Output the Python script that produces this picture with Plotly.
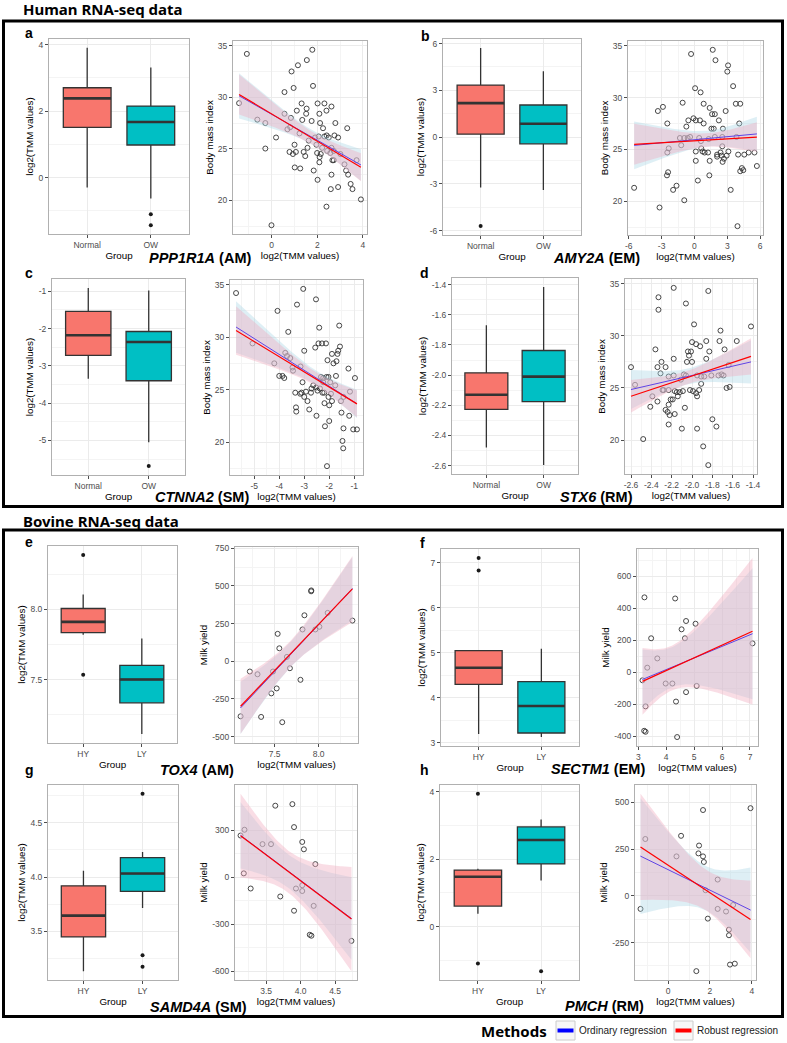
import numpy as np
import plotly.graph_objects as go

W, H = 787, 1043

# ------------------------------------------------------------------ data
# box statistics: [lower whisker, q1, median, q3, upper whisker]
human_groups = ["Normal", "OW"]
bovine_groups = ["HY", "LY"]

a_box_1 = [-0.30, 1.51, 2.38, 2.70, 3.90]
a_box_2 = [-0.63, 0.98, 1.67, 2.15, 3.31]
a_out_1 = []
a_out_2 = [-1.10, -1.43]
a_x = [-1.43, -1.09, -0.63, -0.28, -0.28, -0.01, 0.19, 0.56, 0.56, 0.87,
       0.84, 0.96, 1.15, 1.10, 1.31, 1.34, 1.54, 1.53, 1.51, 1.78,
       1.81, 1.75, 2.01, 2.09, 2.31, 2.40, 2.62, 2.79, 3.31, 2.12,
       2.25, 0.69, 0.81, 1.00, 0.78, 0.93, 1.06, 1.01, 1.25, 1.22,
       1.40, 1.47, 1.57, 1.62, 1.84, 1.90, 1.96, 2.01, 1.99, 2.09,
       2.15, 2.21, 2.31, 2.41, 2.50, 2.43, 2.62, 2.57, 2.66, 2.62,
       2.59, 2.40, 2.75, 2.72, 2.91, 2.91, 3.01, 3.19, 3.26, 3.35,
       3.46, 3.54, 3.72, 3.91, 2.72, 2.06, 2.10]
a_y = [29.43, 34.2, 27.83, 27.5, 25.03, 17.6, 26.1, 30.5, 28.4, 32.5,
       28.0, 30.9, 33.1, 28.7, 29.4, 27.8, 33.6, 28.9, 28.4, 34.6,
       31.1, 27.7, 29.4, 28.4, 29.4, 28.7, 29.1, 27.5, 27.0, 27.5,
       27.0, 26.9, 27.1, 25.4, 24.7, 24.5, 24.7, 23.2, 23.1, 26.5,
       24.7, 24.3, 25.1, 25.8, 22.9, 26.1, 25.4, 22.0, 24.6, 23.7,
       24.5, 25.1, 26.2, 26.3, 26.1, 24.8, 25.1, 24.6, 23.9, 22.5,
       21.1, 19.4, 26.3, 23.9, 26.1, 21.3, 24.5, 23.5, 22.9, 22.5,
       21.6, 21.1, 23.9, 20.1, 24.8, 26.2, 24.2]

b_box_1 = [-3.23, 0.19, 2.18, 3.34, 5.72]
b_box_2 = [-3.38, -0.43, 0.86, 2.06, 4.22]
b_out_1 = [-5.70]
b_out_2 = []
b_x = [-5.51, -3.34, -2.88, -3.19, -2.48, -2.48, -2.35, -2.51, -2.41, -1.95,
       -1.64, -1.08, -1.21, -0.93, -0.74, -0.56, -1.33, -0.93, -0.62, -0.40,
       -0.31, -0.09, 0.06, 0.12, 0.12, 0.12, 0.31, 0.43, 0.59, 0.50,
       0.56, 0.84, 0.84, 0.62, 0.74, 0.93, 1.24, 1.30, 1.36, 1.39,
       1.39, 1.55, 1.61, 1.67, 1.92, 1.86, 1.76, 1.86, 2.07, 2.07,
       2.23, 2.38, 2.48, 2.54, 2.57, 2.69, 2.60, 2.54, 2.85, 3.00,
       3.07, 2.94, 3.10, 3.31, 3.53, 3.78, 4.18, 4.09, 3.84, 3.99,
       3.93, 4.18, 4.33, 4.46, 4.55, 4.95, 5.48, 5.70]
b_y = [21.3, 28.7, 29.1, 19.4, 27.5, 24.7, 25.1, 22.5, 22.8, 21.1,
       21.5, 29.5, 25.4, 20.1, 27.2, 27.8, 26.1, 26.1, 26.1, 26.2,
       34.2, 28.0, 30.9, 27.8, 24.8, 23.9, 22.0, 26.1, 25.8, 27.8,
       30.5, 29.4, 27.5, 25.1, 24.8, 24.7, 24.7, 26.0, 22.5, 23.9,
       29.0, 27.0, 28.4, 34.6, 33.6, 28.4, 27.0, 26.2, 24.3, 24.5,
       27.8, 24.7, 24.4, 25.3, 23.8, 24.1, 27.0, 26.2, 28.7, 32.5,
       33.1, 24.4, 24.8, 21.1, 31.1, 29.4, 29.4, 27.5, 26.2, 24.5,
       17.6, 22.9, 23.2, 23.0, 24.5, 24.7, 24.7, 23.4]

c_box_1 = [-3.35, -2.72, -2.18, -1.54, -0.91]
c_box_2 = [-5.05, -3.40, -2.36, -2.08, -0.98]
c_out_1 = []
c_out_2 = [-5.69]
c_x = [-5.73, -5.07, -4.20, -4.07, -4.00, -3.87, -3.80, -3.76, -3.69, -3.64,
       -3.56, -3.47, -3.45, -3.36, -3.33, -3.32, -3.29, -3.16, -3.15, -3.11,
       -3.04, -3.07, -3.00, -3.00, -2.93, -2.87, -2.80, -2.73, -2.71, -2.64,
       -2.56, -2.53, -2.52, -2.51, -2.47, -2.43, -2.40, -2.37, -2.33, -2.29,
       -2.27, -2.24, -2.24, -2.20, -2.19, -2.17, -2.13, -2.11, -2.09, -2.07,
       -2.03, -2.03, -2.00, -2.00, -1.96, -1.93, -1.89, -1.89, -1.83, -1.76,
       -1.73, -1.71, -1.67, -1.64, -1.60, -1.57, -1.53, -1.51, -1.47, -1.44,
       -1.43, -1.43, -1.23, -1.20, -1.17, -1.04, -0.97, -0.89]
c_y = [34.2, 29.4, 27.5, 32.5, 26.3, 26.3, 26.1, 28.5, 28.2, 30.5,
       28.0, 27.1, 26.8, 24.7, 23.3, 22.9, 33.1, 24.6, 27.2, 24.7,
       34.6, 25.7, 28.7, 24.3, 24.8, 23.9, 23.1, 24.7, 25.1, 25.4,
       29.0, 33.6, 25.2, 22.5, 24.9, 29.4, 30.9, 25.1, 26.2, 29.4,
       24.7, 26.1, 25.7, 24.7, 23.7, 21.5, 29.4, 26.2, 17.7, 27.8,
       24.3, 26.2, 22.0, 23.5, 25.7, 24.6, 23.9, 28.4, 27.5, 25.4,
       26.3, 27.7, 28.4, 28.7, 31.1, 29.1, 23.9, 22.8, 20.1, 19.4,
       21.3, 24.3, 27.0, 22.5, 24.8, 21.2, 26.1, 21.2]

d_box_1 = [-2.48, -2.227, -2.13, -1.985, -1.67]
d_box_2 = [-2.597, -2.176, -2.01, -1.837, -1.415]
d_out_1 = []
d_out_2 = []
d_x = [-2.60, -2.56, -2.48, -2.41, -2.39, -2.36, -2.34, -2.34, -2.33, -2.33,
       -2.31, -2.30, -2.29, -2.28, -2.26, -2.26, -2.24, -2.23, -2.23, -2.23,
       -2.23, -2.22, -2.21, -2.19, -2.18, -2.18, -2.18, -2.17, -2.17, -2.15,
       -2.14, -2.12, -2.11, -2.10, -2.09, -2.08, -2.07, -2.06, -2.06, -2.05,
       -2.04, -2.03, -2.02, -2.01, -2.00, -2.00, -1.99, -1.98, -1.96, -1.95,
       -1.96, -1.95, -1.95, -1.93, -1.92, -1.91, -1.91, -1.89, -1.88, -1.86,
       -1.86, -1.84, -1.84, -1.83, -1.81, -1.80, -1.76, -1.74, -1.73, -1.72,
       -1.71, -1.69, -1.68, -1.66, -1.64, -1.63, -1.56, -1.42]
d_y = [27.0, 25.3, 20.1, 23.2, 24.2, 28.7, 23.7, 27.0, 33.7, 32.5,
       26.4, 27.5, 24.8, 24.8, 27.0, 22.9, 22.7, 26.1, 24.8, 21.5,
       23.4, 22.4, 23.9, 23.9, 34.6, 27.8, 26.2, 24.7, 22.5, 24.6,
       24.2, 24.6, 25.8, 21.1, 24.7, 26.3, 23.1, 33.1, 26.2, 27.5,
       28.5, 28.1, 24.8, 28.5, 29.4, 27.5, 24.7, 31.1, 29.2, 21.1,
       24.5, 24.2, 26.2, 24.8, 29.0, 26.1, 25.4, 19.4, 26.1, 29.5,
       27.8, 17.6, 34.3, 28.5, 26.2, 22.0, 21.3, 26.2, 29.5, 30.5,
       26.3, 26.2, 28.7, 25.0, 27.2, 25.1, 29.5, 30.9]

e_box_1 = [7.82, 7.836, 7.912, 8.007, 8.107]
e_box_2 = [7.114, 7.336, 7.502, 7.602, 7.793]
e_out_1 = [8.388, 7.536]
e_out_2 = []
e_x = [7.113, 7.218, 7.305, 7.346, 7.462, 7.481, 7.523, 7.534, 7.553, 7.586,
       7.639, 7.673, 7.793, 7.816, 7.838, 7.914, 7.916, 7.962, 8.008, 8.102, 8.383]
e_y = [-365, -68, -86, -369, -213, -68, -180, 182, 86, -404,
       29, -46, -123, 211, 305, 464, 470, 211, 229, 321, 270]

f_box_1 = [3.20, 4.30, 4.67, 5.05, 5.06]
f_box_2 = [3.13, 3.22, 3.82, 4.36, 5.09]
f_out_1 = [7.11, 6.83]
f_out_2 = []
f_x = [3.15, 3.22, 3.26, 3.21, 3.26, 3.32, 3.46, 3.68, 3.98, 4.22,
       4.32, 4.35, 4.39, 4.55, 4.67, 4.71, 4.71, 5.05, 5.09, 7.09]
f_y = [-51, 468, -214, -367, -373, 28, 212, 86, -71, -71,
       461, -184, -406, 268, 212, 320, -125, 303, -86, 180]

g_box_1 = [3.133, 3.448, 3.644, 3.919, 4.057]
g_box_2 = [3.714, 3.867, 4.032, 4.179, 4.231]
g_out_1 = []
g_out_2 = [4.766, 3.280, 3.173]
g_x = [3.129, 3.186, 3.176, 3.276, 3.448, 3.571, 3.633, 3.705, 3.881, 3.905,
       3.905, 3.933, 4.024, 4.024, 4.024, 4.048, 4.133, 4.157, 4.190, 4.214, 4.738]
g_y = [267, 304, 25, -72, 212, 212, 458, -123, 468, 321,
       -214, -72, 226, -51, -88, 179, -368, -374, -183, 84, -407]

h_box_1 = [0.38, 0.61, 1.48, 1.68, 1.72]
h_box_2 = [1.37, 1.86, 2.57, 2.96, 3.18]
h_out_1 = [3.94, -1.09]
h_out_2 = [-1.32]
h_x = [-1.32, -1.09, 0.40, 0.62, 1.48, 1.45, 1.67, 1.67, 1.71, 1.79,
       1.90, 2.37, 2.37, 2.77, 2.91, 2.91, 2.96, 3.11, 3.19, 1.35, 3.94]
h_y = [-70, 304, 211, 321, 269, 227, 459, 211, 181, 30,
       -122, 87, -70, -84, -181, -211, -368, -49, -363, -403, 469]

letters = ["a", "b", "c", "d", "e", "f", "g", "h"]
genes = ["PPP1R1A", "AMY2A", "CTNNA2", "STX6", "TOX4", "SECTM1", "SAMD4A", "PMCH"]
modules = ["AM", "EM", "SM", "RM", "AM", "EM", "SM", "RM"]
methods = ["Ordinary regression", "Robust regression"]
method_colors = ["#0000ff", "#ff0000"]
# tick steps [box y, scatter x, scatter y] and decimals
tick_steps = [[2, 2, 5], [3, 3, 5], [1, 1, 5], [0.2, 0.2, 5],
              [0.5, 0.5, 250], [1, 1, 200], [0.5, 0.5, 300], [2, 2, 250]]
tick_decimals = [[0, 0, 0], [0, 0, 0], [0, 0, 0], [1, 1, 0],
                 [1, 1, 0], [0, 0, 0], [1, 1, 0], [0, 0, 0]]

# ------------------------------------------------------------------ layout (pixels)
# (left, right, top, bottom)
box_rect = [(49, 189, 39, 234), (443, 581, 39, 235), (52, 185, 279, 475), (452, 578, 278, 474),
            (48, 177, 546, 743), (441, 579, 549, 746), (48, 178, 785, 980), (440, 579, 785, 980)]
sc_rect = [(233, 367, 41, 234), (628, 763, 41, 235), (230, 363, 280, 475), (625, 757, 279, 474),
           (235, 358, 547, 743), (637, 758, 549, 746), (235, 357, 785, 980), (635, 756, 785, 980)]
letter_pos = [(23, 33), (419, 36), (23, 273), (418, 273), (23, 542), (418, 543), (23, 770), (418, 770)]
gene_pos = [(200, 258), (596, 258), (202, 497), (596, 497), (197, 770), (598, 769), (199, 1007), (604, 1006)]

FONT = "Liberation Sans, Arial, sans-serif"
TITLE_FONT = "Noto Sans, sans-serif"
BOX_FILL = ["#F8766D", "#00BFC4"]
GRID = "#ebebeb"
MINOR = "#f4f4f4"
BORDER = "#b0b0b0"
TICKC = "#4d4d4d"


def xd(l, r):
    return [l / W, r / W]


def yd(t, b):
    return [1 - b / H, 1 - t / H]


def expand(lo, hi, f=0.05):
    s = hi - lo
    return [lo - f * s, hi + f * s]


def make_ticks(rng, step, dec):
    start = np.ceil(rng[0] / step - 1e-9) * step
    vals = []
    v = start
    while v <= rng[1] + 1e-9:
        vals.append(round(v, 6))
        v += step
    txt = []
    for v in vals:
        s = f"{v:.{dec}f}"
        if s.startswith("-") and float(s) == 0:
            s = s[1:]
        txt.append(s)
    minor = [round(v - step / 2, 6) for v in vals] + [round(vals[-1] + step / 2, 6)]
    minor = [m for m in minor if rng[0] <= m <= rng[1]]
    return vals, txt, minor


def tq(df):
    z = 1.959964
    return z + (z ** 3 + z) / (4 * df) + (5 * z ** 5 + 16 * z ** 3 + 3 * z) / (96 * df ** 2)


def fit_ols(x, y):
    X = np.column_stack([np.ones_like(x), x])
    beta = np.linalg.lstsq(X, y, rcond=None)[0]
    r = y - X @ beta
    s = np.sqrt(r @ r / (len(x) - 2))
    return beta, s


def fit_huber(x, y, k=1.345):
    X = np.column_stack([np.ones_like(x), x])
    beta = np.linalg.lstsq(X, y, rcond=None)[0]
    s = 1.0
    for _ in range(200):
        r = y - X @ beta
        s = np.median(np.abs(r)) / 0.6745
        u = np.abs(r) / s
        w = np.where(u <= k, 1.0, k / np.maximum(u, 1e-12))
        Xw = X * w[:, None]
        nb = np.linalg.solve(X.T @ Xw, Xw.T @ y)
        if np.max(np.abs(nb - beta)) < 1e-10:
            beta = nb
            break
        beta = nb
    return beta, s


def band(x, beta, s, grid):
    n = len(x)
    xb = x.mean()
    sxx = ((x - xb) ** 2).sum()
    fit = beta[0] + beta[1] * grid
    se = s * np.sqrt(1 / n + (grid - xb) ** 2 / sxx)
    t = tq(n - 2)
    return fit, fit - t * se, fit + t * se


boxes_1 = [a_box_1, b_box_1, c_box_1, d_box_1, e_box_1, f_box_1, g_box_1, h_box_1]
boxes_2 = [a_box_2, b_box_2, c_box_2, d_box_2, e_box_2, f_box_2, g_box_2, h_box_2]
outs_1 = [a_out_1, b_out_1, c_out_1, d_out_1, e_out_1, f_out_1, g_out_1, h_out_1]
outs_2 = [a_out_2, b_out_2, c_out_2, d_out_2, e_out_2, f_out_2, g_out_2, h_out_2]
xs = [a_x, b_x, c_x, d_x, e_x, f_x, g_x, h_x]
ys = [a_y, b_y, c_y, d_y, e_y, f_y, g_y, h_y]

fig = go.Figure()
layout_axes = {}
annotations = []
shapes = []

for i in range(8):
    human = i < 4
    groups = human_groups if human else bovine_groups
    ytitle = "Body mass index" if human else "Milk yield"
    nb = 2 * i + 1
    ns = 2 * i + 2
    xb_ref, yb_ref = f"x{nb}", f"y{nb}"
    xs_ref, ys_ref = f"x{ns}", f"y{ns}"

    # ---------------- box plot
    stats = [boxes_1[i], boxes_2[i]]
    outs = [outs_1[i], outs_2[i]]
    for g in range(2):
        st = stats[g]
        fig.add_trace(go.Box(
            x=[g + 1], lowerfence=[st[0]], q1=[st[1]], median=[st[2]], q3=[st[3]],
            upperfence=[st[4]], width=0.75, whiskerwidth=0, boxpoints=False,
            fillcolor=BOX_FILL[g], line=dict(color="#333333", width=1.3),
            xaxis=xb_ref, yaxis=yb_ref, showlegend=False, hoverinfo="skip"))
        fig.add_trace(go.Scatter(
            x=[g + 1 - 0.375, g + 1 + 0.375], y=[st[2], st[2]], mode="lines",
            line=dict(color="#333333", width=2.6), xaxis=xb_ref, yaxis=yb_ref,
            showlegend=False, hoverinfo="skip"))
        if outs[g]:
            fig.add_trace(go.Scatter(
                x=[g + 1] * len(outs[g]), y=outs[g], mode="markers",
                marker=dict(color="#1a1a1a", size=4), xaxis=xb_ref, yaxis=yb_ref,
                showlegend=False, hoverinfo="skip"))
    allv = [v for st in stats for v in (st[0], st[4])] + outs[0] + outs[1]
    brng = expand(min(allv), max(allv))
    bv, bt, bm = make_ticks(brng, tick_steps[i][0], tick_decimals[i][0])

    # ---------------- scatter + regressions
    x = np.array(xs[i], dtype=float)
    y = np.array(ys[i], dtype=float)
    grid = np.linspace(x.min(), x.max(), 80)
    bo, so = fit_ols(x, y)
    br, sr = fit_huber(x, y)
    fo, lo_o, hi_o = band(x, bo, so, grid)
    fr, lo_r, hi_r = band(x, br, sr, grid)

    fig.add_trace(go.Scatter(
        x=x, y=y, mode="markers",
        marker=dict(symbol="circle-open", size=5, color="#333333", line=dict(width=0.9)),
        xaxis=xs_ref, yaxis=ys_ref, showlegend=False, hoverinfo="skip"))
    fig.add_trace(go.Scatter(
        x=np.concatenate([grid, grid[::-1]]), y=np.concatenate([hi_o, lo_o[::-1]]),
        fill="toself", fillcolor="rgba(173,216,230,0.4)", line=dict(width=0),
        mode="lines", xaxis=xs_ref, yaxis=ys_ref, showlegend=False, hoverinfo="skip"))
    fig.add_trace(go.Scatter(
        x=grid, y=fo, mode="lines", line=dict(color=method_colors[0], width=1),
        name=methods[0], xaxis=xs_ref, yaxis=ys_ref, showlegend=False, hoverinfo="skip"))
    fig.add_trace(go.Scatter(
        x=np.concatenate([grid, grid[::-1]]), y=np.concatenate([hi_r, lo_r[::-1]]),
        fill="toself", fillcolor="rgba(240,170,190,0.4)", line=dict(width=0),
        mode="lines", xaxis=xs_ref, yaxis=ys_ref, showlegend=False, hoverinfo="skip"))
    fig.add_trace(go.Scatter(
        x=grid, y=fr, mode="lines", line=dict(color=method_colors[1], width=1.2),
        name=methods[1], xaxis=xs_ref, yaxis=ys_ref, showlegend=False, hoverinfo="skip"))

    srx = expand(x.min(), x.max())
    yall = np.concatenate([y, lo_o, hi_o, lo_r, hi_r])
    sry = expand(yall.min(), yall.max())
    sxv, sxt, sxm = make_ticks(srx, tick_steps[i][1], tick_decimals[i][1])
    syv, syt, sym = make_ticks(sry, tick_steps[i][2], tick_decimals[i][2])

    common = dict(showline=True, mirror=True, linecolor=BORDER, linewidth=1,
                  zeroline=False, ticks="outside", ticklen=3, tickwidth=1,
                  tickcolor=TICKC, tickfont=dict(family=FONT, size=8.5, color=TICKC),
                  showgrid=True, gridcolor=GRID, gridwidth=1, automargin=False)
    tfont = dict(family=FONT, size=9.8, color="#000000")

    L, R, T, B = box_rect[i]
    layout_axes["xaxis" + ("" if nb == 1 else str(nb))] = dict(
        common, domain=xd(L, R), anchor=yb_ref, range=[0.4, 2.6],
        tickmode="array", tickvals=[1, 2], ticktext=groups,
        title=dict(text="Group", font=tfont, standoff=2))
    layout_axes["yaxis" + str(nb)] = dict(
        common, domain=yd(T, B), anchor=xb_ref, range=brng,
        tickmode="array", tickvals=bv, ticktext=bt,
        minor=dict(tickvals=bm, showgrid=True, gridcolor=MINOR, gridwidth=0.6, ticks=""),
        title=dict(text="log2(TMM values)", font=tfont, standoff=3))

    L, R, T, B = sc_rect[i]
    layout_axes["xaxis" + str(ns)] = dict(
        common, domain=xd(L, R), anchor=ys_ref, range=srx,
        tickmode="array", tickvals=sxv, ticktext=sxt,
        minor=dict(tickvals=sxm, showgrid=True, gridcolor=MINOR, gridwidth=0.6, ticks=""),
        title=dict(text="log2(TMM values)", font=tfont, standoff=2))
    layout_axes["yaxis" + str(ns)] = dict(
        common, domain=yd(T, B), anchor=xs_ref, range=sry,
        tickmode="array", tickvals=syv, ticktext=syt,
        minor=dict(tickvals=sym, showgrid=True, gridcolor=MINOR, gridwidth=0.6, ticks=""),
        title=dict(text=ytitle, font=tfont, standoff=2))

    lx, ly = letter_pos[i]
    annotations.append(dict(text=f"<b>{letters[i]}</b>", x=lx / W, y=1 - ly / H,
                            xref="paper", yref="paper", xanchor="left", yanchor="middle",
                            showarrow=False, font=dict(family=FONT, size=14, color="#000")))
    gx, gy = gene_pos[i]
    annotations.append(dict(text=f"<b><i>{genes[i]}</i> ({modules[i]})</b>", x=gx / W, y=1 - gy / H,
                            xref="paper", yref="paper", xanchor="center", yanchor="middle",
                            showarrow=False, font=dict(family=FONT, size=14.5, color="#000")))

# section titles
for txt, yy in [("Human RNA-seq data", 9), ("Bovine RNA-seq data", 521)]:
    annotations.append(dict(text=f"<b>{txt}</b>", x=21 / W, y=1 - yy / H, xref="paper", yref="paper",
                            xanchor="left", yanchor="middle", showarrow=False,
                            font=dict(family=TITLE_FONT, size=15, color="#000")))

# legend (title, keys, labels)
LEG_Y = 1030.5
annotations.append(dict(text="<b>Methods</b>", x=549 / W, y=1 - LEG_Y / H, xref="paper", yref="paper",
                        xanchor="right", yanchor="middle", showarrow=False,
                        font=dict(family=TITLE_FONT, size=15, color="#000")))
key_x = [(556, 575, 577), (674, 693, 695)]
for k in range(2):
    k0, k1, tx = key_x[k]
    shapes.append(dict(type="rect", xref="paper", yref="paper", x0=k0 / W, x1=k1 / W,
                       y0=1 - (LEG_Y + 9.5) / H, y1=1 - (LEG_Y - 9.5) / H,
                       line=dict(color="#cccccc", width=1), fillcolor="#f7f7f7"))
    shapes.append(dict(type="line", xref="paper", yref="paper", x0=(k0 + 1.5) / W, x1=(k1 - 1.5) / W,
                       y0=1 - LEG_Y / H, y1=1 - LEG_Y / H,
                       line=dict(color=method_colors[k], width=4)))
    annotations.append(dict(text=methods[k], x=tx / W, y=1 - LEG_Y / H, xref="paper", yref="paper",
                            xanchor="left", yanchor="middle", showarrow=False,
                            font=dict(family=FONT, size=10, color="#1a1a1a")))

frames = [(3.5, 21, 782.5, 506.5), (3.5, 530, 782.5, 1016.5)]
for (a, b, c, d) in frames:
    shapes.append(dict(type="rect", xref="paper", yref="paper", x0=a / W, x1=c / W, y0=1 - d / H,
                       y1=1 - b / H, line=dict(color="#000", width=3), layer="above"))

fig.update_layout(
    width=W, height=H, autosize=False,
    margin=dict(l=0, r=0, t=0, b=0),
    paper_bgcolor="white", plot_bgcolor="white",
    font=dict(family=FONT),
    annotations=annotations, shapes=shapes,
    showlegend=False,
    **layout_axes)

fig.write_html("out.html", config={"displayModeBar": False},
               post_script="document.body.style.margin='0px';")
